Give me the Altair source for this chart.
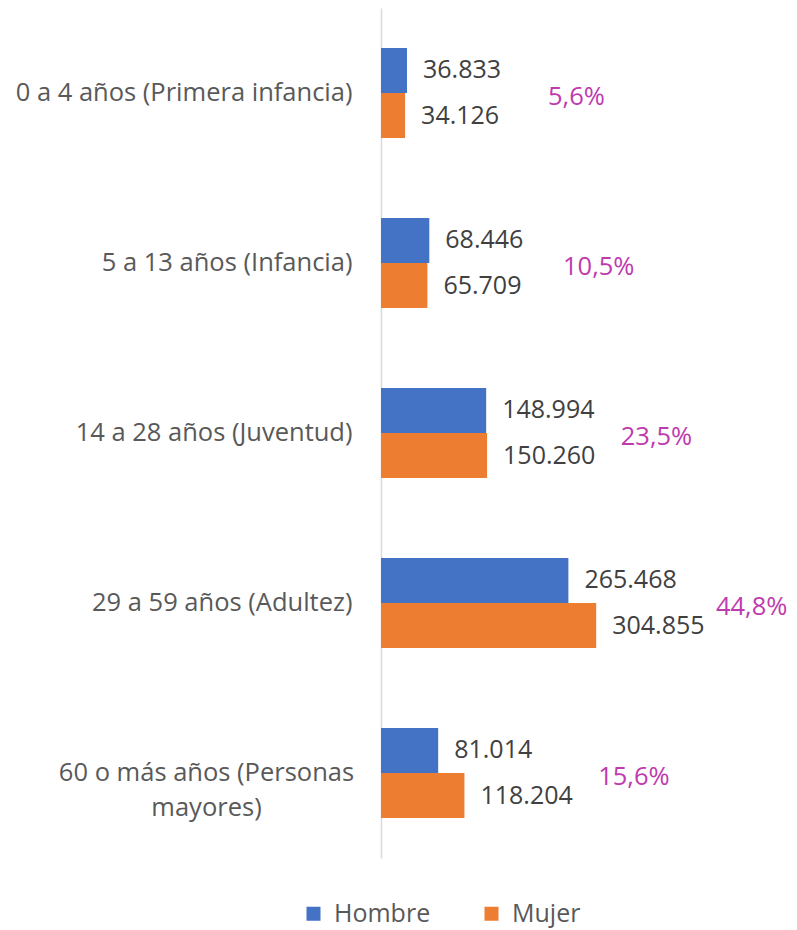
import altair as alt
import pandas as pd

categories = [
    "0 a 4 años (Primera infancia)",
    "5 a 13 años (Infancia)",
    "14 a 28 años (Juventud)",
    "29 a 59 años (Adultez)",
    "60 o más años (Personas\nmayores)",
]
hombre = [36833, 68446, 148994, 265468, 81014]
mujer = [34126, 65709, 150260, 304855, 118204]
pct = [5.6, 10.5, 23.5, 44.8, 15.6]
series = ["Hombre", "Mujer"]
colors = ["#4472C4", "#ED7D31"]

rows = []
for c, h, m in zip(categories, hombre, mujer):
    rows.append({"cat": c, "sexo": "Hombre", "v": h})
    rows.append({"cat": c, "sexo": "Mujer", "v": m})
df = pd.DataFrame(rows)
dfp = pd.DataFrame({"cat": categories, "pct": pct,
                    "maxv": [max(h, m) for h, m in zip(hombre, mujer)]})

FONT = "Open Sans"

yscale = alt.Scale(domain=categories, paddingInner=0.47, paddingOuter=0.235)
yax = alt.Axis(
    title=None, ticks=False, grid=False,
    domainColor="#D9D9D9", domainWidth=1.5,
    labelFont=FONT, labelFontSize=25.5, labelColor="#595959",
    labelLimit=400, labelLineHeight=35,
    labelExpr="split(datum.value, '\\n')",
    labelAlign={"condition": {"test": "indexof(datum.value, '\\n') >= 0", "value": "center"}, "value": "right"},
    labelPadding={"condition": {"test": "indexof(datum.value, '\\n') >= 0", "value": 175}, "value": 29},
)
xscale = alt.Scale(domain=[0, 578000], nice=False)

base = alt.Chart(df)
bars = base.mark_bar(size=45).encode(
    y=alt.Y("cat:N", scale=yscale, axis=yax, sort=categories),
    yOffset=alt.YOffset("sexo:N", sort=series),
    x=alt.X("v:Q", scale=xscale, axis=None),
    color=alt.Color("sexo:N", scale=alt.Scale(domain=series, range=colors), sort=series,
                    legend=alt.Legend(title=None, orient="none", direction="horizontal",
                                      legendX=-80, legendY=893,
                                      symbolType="square", symbolSize=196,
                                      symbolStrokeWidth=0,
                                      labelFont=FONT, labelFontSize=25, labelColor="#595959",
                                      columnPadding=48, labelOffset=8)),
)
labels = base.mark_text(align="left", baseline="middle", dx=16, font=FONT, fontSize=25,
                        color="#404040").transform_calculate(
    lab="replace(format(datum.v, ','), /,/g, '.')"
).encode(
    y=alt.Y("cat:N", scale=yscale, sort=categories),
    yOffset=alt.YOffset("sexo:N", sort=series),
    x=alt.X("v:Q", scale=xscale),
    text="lab:N",
)
pcts = alt.Chart(dfp).mark_text(align="center", baseline="middle", dy=4,
                                font=FONT, fontSize=25.5,
                                color="#BE3BAE").transform_calculate(
    lab="replace(format(datum.pct, '.1f'), '.', ',') + '%'",
    px="min(datum.maxv + 240000, 525000)",
).encode(
    y=alt.Y("cat:N", scale=yscale, sort=categories),
    x=alt.X("px:Q", scale=xscale),
    text="lab:N",
)

chart = alt.layer(bars, labels, pcts).properties(
    width=408, height=850,
    background="white",
    autosize=alt.AutoSizeParams(type="none"),
    padding={"left": 373, "top": 0, "right": 0, "bottom": 72},
).configure_view(stroke=None)

chart.save("out.html", embed_options={"renderer": "svg", "actions": False})
